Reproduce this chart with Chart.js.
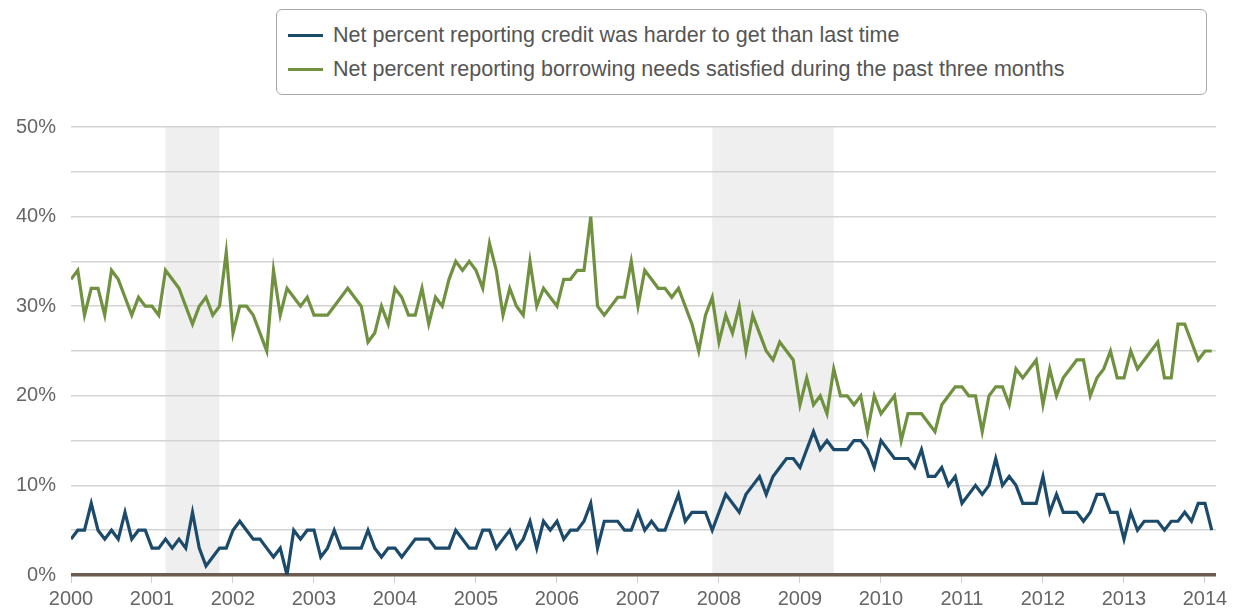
<!DOCTYPE html>
<html>
<head>
<meta charset="utf-8">
<script src="https://cdn.jsdelivr.net/npm/chart.js@4.4.1/dist/chart.umd.min.js"></script>
<style>
    body { margin: 0; background: #fff; font-family: "Liberation Sans", Arial, sans-serif; }
    #wrap { position: relative; width: 1233px; height: 613px; }
    #chart-box { position: absolute; left: 0; top: 0; width: 1233px; height: 613px; }
    #legend {
        position: absolute; left: 276px; top: 9px; width: 931px; height: 86px;
        border: 1px solid #a8a8a8; border-radius: 6px; box-sizing: border-box; background: #fff;
    }
    .legend-item { position: absolute; left: 11px; display: flex; align-items: center; font-size: 21.5px; line-height: 26px; color: #555; white-space: nowrap; }
    .legend-item .swatch { width: 35px; height: 3px; margin-right: 10px; }
</style>
</head>
<body>
<div id="wrap">
    <div id="chart-box"><canvas id="chart"></canvas></div>
    <div id="legend"></div>
</div>
<script>
// monthly data, Jan 2000 - Feb 2014
const startYear = 2000;
const yearTicks = [2000, 2001, 2002, 2003, 2004, 2005, 2006, 2007, 2008, 2009, 2010, 2011, 2012, 2013, 2014];

const seriesLabels = [
    'Net percent reporting credit was harder to get than last time',
    'Net percent reporting borrowing needs satisfied during the past three months'
];

const creditHarder = [
    4, 5, 5, 8, 5, 4, 5, 4, 7, 4, 5, 5,          // 2000
    3, 3, 4, 3, 4, 3, 7, 3, 1, 2, 3, 3,          // 2001
    5, 6, 5, 4, 4, 3, 2, 3, 0, 5, 4, 5,          // 2002
    5, 2, 3, 5, 3, 3, 3, 3, 5, 3, 2, 3,          // 2003
    3, 2, 3, 4, 4, 4, 3, 3, 3, 5, 4, 3,          // 2004
    3, 5, 5, 3, 4, 5, 3, 4, 6, 3, 6, 5,          // 2005
    6, 4, 5, 5, 6, 8, 3, 6, 6, 6, 5, 5,          // 2006
    7, 5, 6, 5, 5, 7, 9, 6, 7, 7, 7, 5,          // 2007
    7, 9, 8, 7, 9, 10, 11, 9, 11, 12, 13, 13,    // 2008
    12, 14, 16, 14, 15, 14, 14, 14, 15, 15, 14, 12, // 2009
    15, 14, 13, 13, 13, 12, 14, 11, 11, 12, 10, 11, // 2010
    8, 9, 10, 9, 10, 13, 10, 11, 10, 8, 8, 8,    // 2011
    11, 7, 9, 7, 7, 7, 6, 7, 9, 9, 7, 7,         // 2012
    4, 7, 5, 6, 6, 6, 5, 6, 6, 7, 6, 8,          // 2013
    8, 5                                         // 2014
];

const needsSatisfied = [
    33, 34, 29, 32, 32, 29, 34, 33, 31, 29, 31, 30, // 2000
    30, 29, 34, 33, 32, 30, 28, 30, 31, 29, 30, 36, // 2001
    27, 30, 30, 29, 27, 25, 34, 29, 32, 31, 30, 31, // 2002
    29, 29, 29, 30, 31, 32, 31, 30, 26, 27, 30, 28, // 2003
    32, 31, 29, 29, 32, 28, 31, 30, 33, 35, 34, 35, // 2004
    34, 32, 37, 34, 29, 32, 30, 29, 35, 30, 32, 31, // 2005
    30, 33, 33, 34, 34, 40, 30, 29, 30, 31, 31, 35, // 2006
    30, 34, 33, 32, 32, 31, 32, 30, 28, 25, 29, 31, // 2007
    26, 29, 27, 30, 25, 29, 27, 25, 24, 26, 25, 24, // 2008
    19, 22, 19, 20, 18, 23, 20, 20, 19, 20, 16, 20, // 2009
    18, 19, 20, 15, 18, 18, 18, 17, 16, 19, 20, 21, // 2010
    21, 20, 20, 16, 20, 21, 21, 19, 23, 22, 23, 24, // 2011
    19, 23, 20, 22, 23, 24, 24, 20, 22, 23, 25, 22, // 2012
    22, 25, 23, 24, 25, 26, 22, 22, 28, 28, 26, 24, // 2013
    25, 25                                          // 2014
];

// recessions: Mar 2001 - Nov 2001, Dec 2007 - Jun 2009
const recessionStart = [2001 + 2 / 12, 2007 + 11 / 12];
const recessionEnd = [2001 + 10 / 12, 2009 + 5 / 12];

const colors = ['#1b4a6b', '#6f9140'];

function toPoints(values) {
    return values.map((v, i) => ({ x: startYear + i / 12, y: v }));
}

// grey bands behind the grid
const recessionBands = {
    id: 'recessionBands',
    beforeDraw(chart) {
        const { ctx, chartArea, scales } = chart;
        ctx.save();
        ctx.fillStyle = '#efefef';
        recessionStart.forEach((s, i) => {
            const x1 = scales.x.getPixelForValue(s);
            const x2 = scales.x.getPixelForValue(recessionEnd[i]);
            ctx.fillRect(x1, chartArea.top, x2 - x1, chartArea.bottom - chartArea.top);
        });
        ctx.restore();
    }
};

const tickFont = { family: '"Liberation Sans", Arial, sans-serif', size: 20 };

const chart = new Chart(document.getElementById('chart'), {
    type: 'line',
    data: {
        datasets: [
            { label: seriesLabels[0], data: toPoints(creditHarder), borderColor: colors[0] },
            { label: seriesLabels[1], data: toPoints(needsSatisfied), borderColor: colors[1] }
        ]
    },
    options: {
        responsive: true,
        maintainAspectRatio: false,
        animation: false,
        layout: { padding: { top: 127, right: 17, left: 0, bottom: 0 } },
        elements: {
            point: { radius: 0 },
            line: { borderWidth: 3.2, tension: 0 }
        },
        plugins: {
            legend: { display: false },
            tooltip: { enabled: false }
        },
        scales: {
            x: {
                type: 'linear',
                min: 2000,
                max: 2014.136,
                afterBuildTicks: (scale) => { scale.ticks = yearTicks.map(v => ({ value: v })); },
                afterFit: (scale) => { scale.height = 38; },
                border: { display: false },
                grid: { drawOnChartArea: false, drawTicks: true, tickLength: 8, color: '#cfcfcf', lineWidth: 1 },
                ticks: { color: '#666', font: tickFont, padding: 4, maxRotation: 0, autoSkip: false, callback: v => String(v) }
            },
            y: {
                min: 0,
                max: 50,
                afterFit: (scale) => { scale.width = 71; },
                border: { display: false },
                grid: {
                    drawTicks: false,
                    color: c => c.tick.value === 0 ? '#6b5c4f' : '#d3d3d3',
                    lineWidth: c => c.tick.value === 0 ? 3.5 : 1.5
                },
                ticks: {
                    stepSize: 5,
                    color: '#666',
                    font: tickFont,
                    padding: 15,
                    callback: v => v % 10 === 0 ? v + '%' : ''
                }
            }
        }
    },
    plugins: [recessionBands]
});

// legend in a bordered box
const legendBox = document.getElementById('legend');
legendBox.innerHTML = chart.data.datasets.map((ds, i) => `
    <div class="legend-item" style="top:${12 + i * 34}px">
        <span class="swatch" style="background:${ds.borderColor}"></span>${ds.label}
    </div>
`).join('');
</script>
</body>
</html>
